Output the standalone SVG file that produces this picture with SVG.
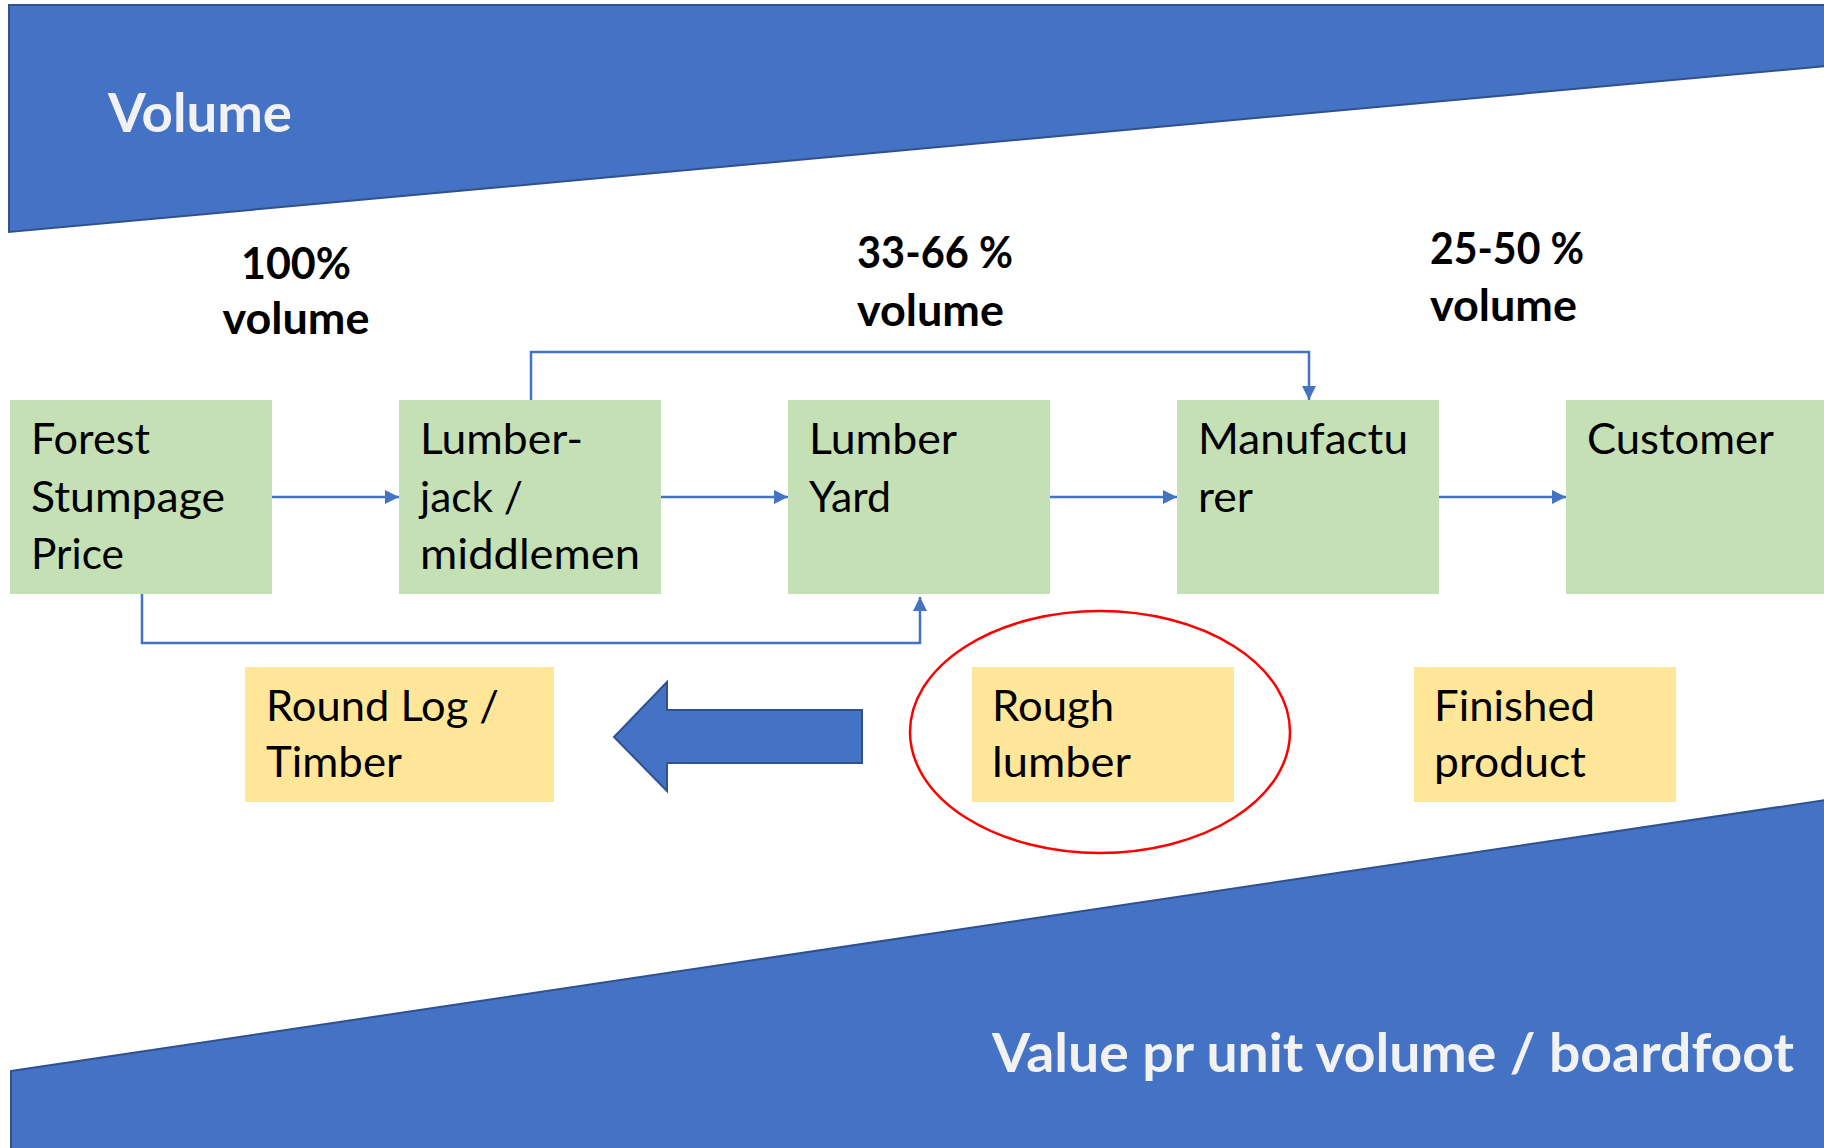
<svg xmlns="http://www.w3.org/2000/svg" width="1824" height="1148" viewBox="0 0 1824 1148">
  <style>
    .band { fill: #4472C4; stroke: #2F528F; stroke-width: 2; }
    .band-title { font-family: Lato, "Open Sans", sans-serif; font-weight: 700; font-size: 54px; fill: #F2F2F2; }
    .pct { font-family: Lato, "Open Sans", sans-serif; font-weight: 700; font-size: 43px; fill: #000000; }
    .step { fill: #C5E0B4; }
    .product { fill: #FFE699; }
    .label { font-family: Lato, "Open Sans", sans-serif; font-size: 42px; fill: #000000; }
    .link { fill: none; stroke: #4472C4; stroke-width: 2.5; }
    .big-arrow { fill: #4472C4; stroke: #2F528F; stroke-width: 2; }
    .focus { fill: none; stroke: #FF0000; stroke-width: 2.5; }
  </style>
  <defs>
    <marker id="head" markerUnits="userSpaceOnUse" markerWidth="14" markerHeight="14" refX="14" refY="7" orient="auto">
      <path d="M0,0 L14,7 L0,14 Z" fill="#4472C4"/>
    </marker>
  </defs>

  <rect width="1824" height="1148" fill="#FFFFFF"/>

  <!-- volume band (top) and value band (bottom) -->
  <g id="volume-band">
    <polygon class="band" points="9,5 1826,5 1826,66 9,232"/>
    <text class="band-title" x="108" y="132" textLength="184" lengthAdjust="spacingAndGlyphs">Volume</text>
  </g>
  <g id="value-band">
    <polygon class="band" points="11,1071 1826,800 1826,1150 11,1150"/>
    <text class="band-title" x="992" y="1072" textLength="802" lengthAdjust="spacingAndGlyphs">Value pr unit volume / boardfoot</text>
  </g>

  <!-- share-of-volume labels -->
  <g id="pct-100">
    <text class="pct" x="296" y="279" text-anchor="middle">100%</text>
    <text class="pct" x="296" y="334" text-anchor="middle" textLength="147" lengthAdjust="spacingAndGlyphs">volume</text>
  </g>
  <g id="pct-33-66">
    <text class="pct" x="857" y="268" textLength="156" lengthAdjust="spacingAndGlyphs">33-66 %</text>
    <text class="pct" x="857" y="326" textLength="147" lengthAdjust="spacingAndGlyphs">volume</text>
  </g>
  <g id="pct-25-50">
    <text class="pct" x="1430" y="264" textLength="154" lengthAdjust="spacingAndGlyphs">25-50 %</text>
    <text class="pct" x="1430" y="321" textLength="147" lengthAdjust="spacingAndGlyphs">volume</text>
  </g>

  <!-- connectors -->
  <g id="connectors">
    <line class="link" x1="272" y1="497" x2="399" y2="497" marker-end="url(#head)"/>
    <line class="link" x1="661" y1="497" x2="788" y2="497" marker-end="url(#head)"/>
    <line class="link" x1="1050" y1="497" x2="1177" y2="497" marker-end="url(#head)"/>
    <line class="link" x1="1439" y1="497" x2="1566" y2="497" marker-end="url(#head)"/>
    <path class="link" d="M531,400 V352 H1309 V400" marker-end="url(#head)"/>
    <path class="link" d="M142,594 V643 H920 V597" marker-end="url(#head)"/>
  </g>

  <!-- supply chain steps -->
  <g id="forest">
    <rect class="step" x="10" y="400" width="262" height="194"/>
    <text class="label" x="31" y="454" textLength="119" lengthAdjust="spacingAndGlyphs">Forest</text>
    <text class="label" x="31" y="512" textLength="194" lengthAdjust="spacingAndGlyphs">Stumpage</text>
    <text class="label" x="31" y="569" textLength="93" lengthAdjust="spacingAndGlyphs">Price</text>
  </g>
  <g id="lumberjack">
    <rect class="step" x="399" y="400" width="262" height="194"/>
    <text class="label" x="420" y="454" textLength="163" lengthAdjust="spacingAndGlyphs">Lumber-</text>
    <text class="label" x="420" y="512" textLength="103" lengthAdjust="spacingAndGlyphs">jack /</text>
    <text class="label" x="420" y="569" textLength="220" lengthAdjust="spacingAndGlyphs">middlemen</text>
  </g>
  <g id="lumber-yard">
    <rect class="step" x="788" y="400" width="262" height="194"/>
    <text class="label" x="809" y="454" textLength="148" lengthAdjust="spacingAndGlyphs">Lumber</text>
    <text class="label" x="809" y="512" textLength="82" lengthAdjust="spacingAndGlyphs">Yard</text>
  </g>
  <g id="manufacturer">
    <rect class="step" x="1177" y="400" width="262" height="194"/>
    <text class="label" x="1198" y="454" textLength="210" lengthAdjust="spacingAndGlyphs">Manufactu</text>
    <text class="label" x="1198" y="512" textLength="55" lengthAdjust="spacingAndGlyphs">rer</text>
  </g>
  <g id="customer">
    <rect class="step" x="1566" y="400" width="262" height="194"/>
    <text class="label" x="1587" y="454" textLength="187" lengthAdjust="spacingAndGlyphs">Customer</text>
  </g>

  <!-- product stages -->
  <g id="round-log">
    <rect class="product" x="245" y="667" width="309" height="135"/>
    <text class="label" x="266" y="721" textLength="233" lengthAdjust="spacingAndGlyphs">Round Log /</text>
    <text class="label" x="266" y="777" textLength="136" lengthAdjust="spacingAndGlyphs">Timber</text>
  </g>
  <g id="big-arrow">
    <polygon class="big-arrow" points="862,710 667,710 667,682 614,737 667,791 667,763 862,763"/>
  </g>
  <g id="rough-lumber">
    <rect class="product" x="972" y="667" width="262" height="135"/>
    <text class="label" x="992" y="721" textLength="122" lengthAdjust="spacingAndGlyphs">Rough</text>
    <text class="label" x="992" y="777" textLength="139" lengthAdjust="spacingAndGlyphs">lumber</text>
    <ellipse class="focus" cx="1100" cy="732" rx="190" ry="121"/>
  </g>
  <g id="finished-product">
    <rect class="product" x="1414" y="667" width="262" height="135"/>
    <text class="label" x="1434" y="721" textLength="161" lengthAdjust="spacingAndGlyphs">Finished</text>
    <text class="label" x="1434" y="777" textLength="152" lengthAdjust="spacingAndGlyphs">product</text>
  </g>
</svg>
